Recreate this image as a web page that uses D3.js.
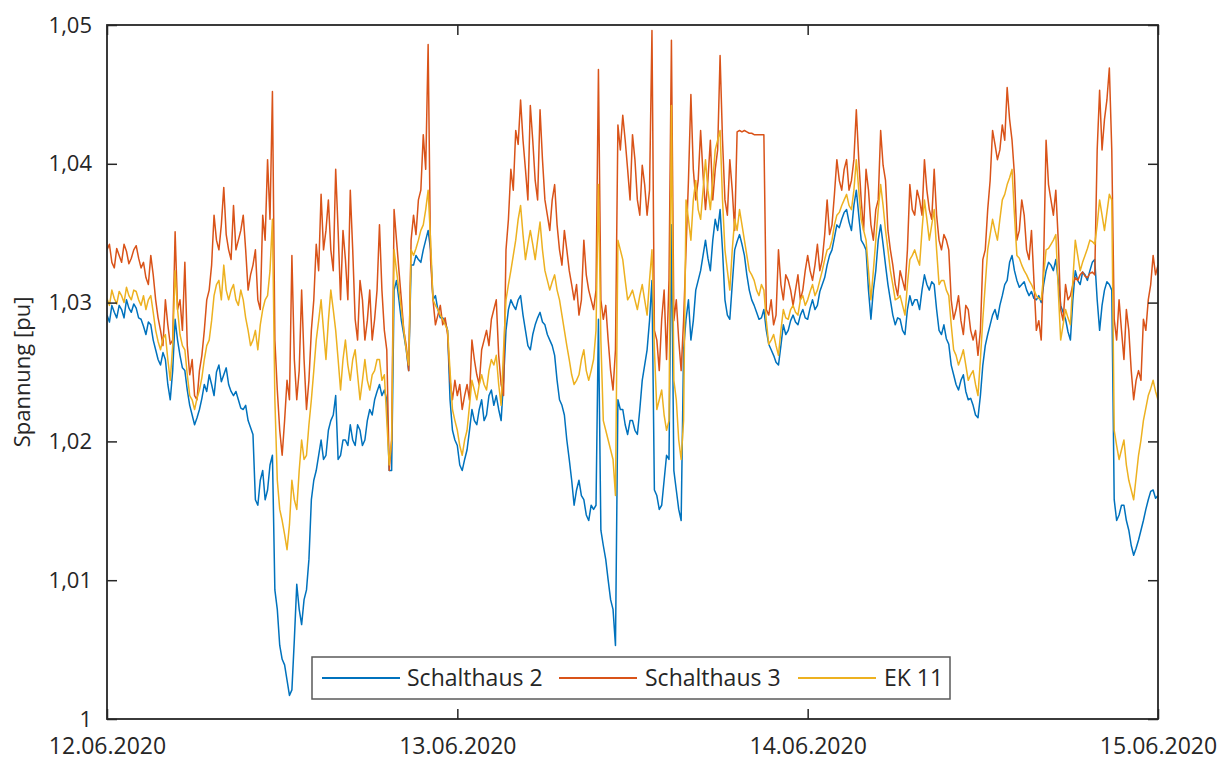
<!DOCTYPE html>
<html>
<head>
<meta charset="utf-8">
<script src="https://cdn.jsdelivr.net/npm/d3@7"></script>
<style>
  body { margin: 0; background: #fff; }
  text { font-family: "Open Sans", "Noto Sans", sans-serif; fill: #262626; }
</style>
</head>
<body>
<svg id="chart" width="1228" height="758"></svg>
<script>
// Voltage measurements, one sample every 10 minutes from 12.06.2020 00:00
const startTime = new Date(2020, 5, 12, 0, 0);
const endTime = new Date(2020, 5, 15, 0, 0);
const stepMinutes = 10;

const seriesNames = ["Schalthaus 2", "Schalthaus 3", "EK 11"];

const schalthaus2 = [
 1.0291,1.0286,1.0298,1.0293,1.0289,1.0298,1.0295,1.0289,1.0302,1.0296,1.0293,1.0299,1.0296,1.0289,1.0288,1.0283,1.0277,1.0286,1.0284,1.0273,
 1.0266,1.0259,1.0255,1.0264,1.0259,1.0241,1.0230,1.0251,1.0288,1.0273,1.0262,1.0253,1.0251,1.0237,1.0226,1.0219,1.0212,1.0217,1.0223,1.0231,
 1.0241,1.0236,1.0248,1.0241,1.0233,1.0250,1.0255,1.0243,1.0248,1.0253,1.0241,1.0236,1.0233,1.0236,1.0230,1.0224,1.0223,1.0226,1.0215,1.0210,
 1.0205,1.0158,1.0154,1.0172,1.0179,1.0158,1.0165,1.0183,1.0190,1.0093,1.0079,1.0053,1.0043,1.0039,1.0028,1.0017,1.0021,1.0057,1.0097,1.0079,
 1.0068,1.0086,1.0093,1.0115,1.0158,1.0172,1.0179,1.0190,1.0201,1.0187,1.0190,1.0208,1.0215,1.0219,1.0233,1.0187,1.0190,1.0201,1.0201,1.0197,
 1.0212,1.0201,1.0197,1.0212,1.0208,1.0197,1.0201,1.0215,1.0223,1.0219,1.0230,1.0236,1.0241,1.0233,1.0237,1.0230,1.0179,1.0179,1.0309,1.0316,
 1.0302,1.0287,1.0277,1.0266,1.0251,1.0327,1.0327,1.0334,1.0331,1.0329,1.0338,1.0345,1.0352,1.0338,1.0302,1.0305,1.0295,1.0289,1.0289,1.0286,
 1.0280,1.0230,1.0208,1.0201,1.0197,1.0183,1.0179,1.0187,1.0194,1.0208,1.0223,1.0215,1.0212,1.0223,1.0230,1.0215,1.0219,1.0233,1.0237,1.0226,
 1.0233,1.0223,1.0215,1.0244,1.0280,1.0295,1.0302,1.0298,1.0295,1.0302,1.0305,1.0291,1.0280,1.0269,1.0266,1.0277,1.0284,1.0289,1.0293,1.0286,
 1.0284,1.0277,1.0273,1.0269,1.0262,1.0244,1.0230,1.0226,1.0219,1.0201,1.0187,1.0172,1.0154,1.0165,1.0172,1.0161,1.0158,1.0147,1.0143,1.0154,
 1.0151,1.0154,1.0288,1.0136,1.0125,1.0115,1.0100,1.0086,1.0079,1.0053,1.0230,1.0223,1.0223,1.0212,1.0205,1.0215,1.0215,1.0208,1.0205,1.0223,
 1.0244,1.0255,1.0266,1.0287,1.0316,1.0165,1.0161,1.0151,1.0154,1.0172,1.0190,1.0187,1.0356,1.0179,1.0165,1.0151,1.0143,1.0266,1.0288,1.0302,
 1.0273,1.0287,1.0309,1.0316,1.0323,1.0334,1.0345,1.0332,1.0323,1.0345,1.0360,1.0352,1.0367,1.0338,1.0302,1.0291,1.0288,1.0313,1.0338,1.0344,
 1.0349,1.0342,1.0334,1.0320,1.0309,1.0302,1.0298,1.0293,1.0288,1.0289,1.0295,1.0280,1.0270,1.0266,1.0262,1.0257,1.0255,1.0269,1.0284,1.0277,
 1.0280,1.0287,1.0291,1.0286,1.0284,1.0291,1.0295,1.0289,1.0288,1.0296,1.0302,1.0295,1.0298,1.0308,1.0313,1.0318,1.0327,1.0334,1.0338,1.0347,
 1.0356,1.0354,1.0360,1.0365,1.0367,1.0358,1.0352,1.0370,1.0381,1.0363,1.0345,1.0342,1.0338,1.0309,1.0288,1.0309,1.0323,1.0345,1.0356,1.0342,
 1.0327,1.0313,1.0302,1.0291,1.0284,1.0289,1.0288,1.0280,1.0277,1.0295,1.0305,1.0298,1.0302,1.0302,1.0295,1.0309,1.0320,1.0313,1.0309,1.0315,
 1.0313,1.0295,1.0280,1.0277,1.0284,1.0274,1.0270,1.0255,1.0248,1.0241,1.0237,1.0244,1.0248,1.0236,1.0230,1.0231,1.0226,1.0219,1.0217,1.0233,
 1.0255,1.0269,1.0277,1.0284,1.0291,1.0295,1.0288,1.0298,1.0305,1.0313,1.0316,1.0329,1.0334,1.0323,1.0316,1.0311,1.0313,1.0315,1.0309,1.0305,
 1.0308,1.0303,1.0302,1.0305,1.0300,1.0313,1.0323,1.0329,1.0327,1.0323,1.0331,1.0316,1.0298,1.0293,1.0288,1.0279,1.0273,1.0302,1.0323,1.0316,
 1.0313,1.0322,1.0320,1.0316,1.0323,1.0329,1.0331,1.0302,1.0280,1.0298,1.0309,1.0315,1.0313,1.0309,1.0158,1.0143,1.0147,1.0154,1.0154,1.0143,
 1.0136,1.0125,1.0118,1.0123,1.0129,1.0136,1.0143,1.0151,1.0158,1.0164,1.0165,1.0159,1.0161];

const schalthaus3 = [
 1.0338,1.0342,1.0329,1.0325,1.0339,1.0334,1.0329,1.0342,1.0337,1.0328,1.0332,1.0338,1.0341,1.0332,1.0325,1.0329,1.0318,1.0313,1.0334,1.0320,
 1.0302,1.0289,1.0280,1.0269,1.0302,1.0284,1.0270,1.0273,1.0351,1.0295,1.0302,1.0280,1.0329,1.0269,1.0248,1.0259,1.0233,1.0230,1.0251,1.0262,
 1.0280,1.0302,1.0309,1.0327,1.0363,1.0345,1.0338,1.0356,1.0383,1.0349,1.0338,1.0331,1.0370,1.0338,1.0345,1.0352,1.0363,1.0338,1.0309,1.0320,
 1.0327,1.0338,1.0302,1.0295,1.0363,1.0345,1.0403,1.0360,1.0452,1.0273,1.0237,1.0208,1.0190,1.0215,1.0244,1.0230,1.0334,1.0259,1.0230,1.0251,
 1.0309,1.0259,1.0223,1.0244,1.0280,1.0302,1.0342,1.0323,1.0378,1.0338,1.0352,1.0374,1.0338,1.0323,1.0396,1.0352,1.0302,1.0352,1.0331,1.0302,
 1.0381,1.0338,1.0288,1.0273,1.0316,1.0302,1.0273,1.0287,1.0309,1.0273,1.0288,1.0309,1.0356,1.0309,1.0280,1.0266,1.0179,1.0201,1.0367,1.0345,
 1.0323,1.0302,1.0280,1.0269,1.0251,1.0345,1.0363,1.0349,1.0374,1.0381,1.0421,1.0396,1.0486,1.0331,1.0302,1.0284,1.0291,1.0298,1.0284,1.0289,
 1.0277,1.0244,1.0230,1.0244,1.0233,1.0241,1.0223,1.0233,1.0241,1.0230,1.0273,1.0259,1.0248,1.0241,1.0266,1.0273,1.0280,1.0269,1.0288,1.0295,
 1.0302,1.0262,1.0241,1.0233,1.0338,1.0360,1.0396,1.0381,1.0424,1.0414,1.0446,1.0417,1.0396,1.0374,1.0442,1.0417,1.0388,1.0374,1.0439,1.0403,
 1.0374,1.0363,1.0352,1.0374,1.0385,1.0356,1.0338,1.0327,1.0352,1.0338,1.0323,1.0313,1.0302,1.0313,1.0291,1.0302,1.0345,1.0320,1.0309,1.0302,
 1.0295,1.0309,1.0468,1.0302,1.0288,1.0298,1.0273,1.0251,1.0237,1.0266,1.0428,1.0410,1.0435,1.0417,1.0396,1.0374,1.0421,1.0403,1.0374,1.0363,
 1.0399,1.0385,1.0363,1.0381,1.0496,1.0280,1.0273,1.0251,1.0288,1.0309,1.0259,1.0316,1.0489,1.0287,1.0302,1.0273,1.0251,1.0287,1.0338,1.0388,
 1.0450,1.0396,1.0374,1.0388,1.0424,1.0392,1.0367,1.0388,1.0417,1.0374,1.0396,1.0410,1.0478,1.0417,1.0374,1.0363,1.0403,1.0381,1.0352,1.0423,
 1.0424,1.0423,1.0424,1.0423,1.0422,1.0422,1.0421,1.0421,1.0421,1.0421,1.0421,1.0295,1.0291,1.0302,1.0284,1.0291,1.0338,1.0313,1.0302,1.0320,
 1.0316,1.0309,1.0298,1.0309,1.0320,1.0302,1.0309,1.0323,1.0334,1.0323,1.0316,1.0327,1.0342,1.0323,1.0331,1.0349,1.0374,1.0349,1.0356,1.0378,
 1.0403,1.0388,1.0381,1.0396,1.0403,1.0381,1.0388,1.0403,1.0439,1.0403,1.0374,1.0352,1.0396,1.0381,1.0356,1.0345,1.0367,1.0374,1.0424,1.0399,
 1.0388,1.0352,1.0338,1.0327,1.0313,1.0305,1.0323,1.0316,1.0309,1.0338,1.0385,1.0367,1.0363,1.0381,1.0374,1.0363,1.0403,1.0381,1.0367,1.0360,
 1.0396,1.0363,1.0345,1.0338,1.0349,1.0345,1.0338,1.0302,1.0288,1.0295,1.0305,1.0287,1.0277,1.0298,1.0295,1.0280,1.0273,1.0280,1.0262,1.0280,
 1.0331,1.0338,1.0367,1.0388,1.0424,1.0414,1.0403,1.0410,1.0428,1.0417,1.0455,1.0432,1.0417,1.0392,1.0345,1.0352,1.0374,1.0363,1.0338,1.0331,
 1.0352,1.0316,1.0280,1.0287,1.0273,1.0331,1.0417,1.0385,1.0374,1.0363,1.0381,1.0345,1.0295,1.0287,1.0313,1.0302,1.0305,1.0313,1.0318,1.0316,
 1.0320,1.0322,1.0319,1.0318,1.0321,1.0322,1.0320,1.0410,1.0453,1.0410,1.0432,1.0446,1.0469,1.0410,1.0288,1.0273,1.0302,1.0280,1.0259,1.0295,
 1.0280,1.0251,1.0230,1.0244,1.0251,1.0244,1.0288,1.0280,1.0302,1.0313,1.0334,1.0320,1.0327];

const ek11 = [
 1.0303,1.0298,1.0309,1.0303,1.0299,1.0308,1.0305,1.0300,1.0311,1.0305,1.0302,1.0309,1.0308,1.0302,1.0298,1.0305,1.0295,1.0302,1.0305,1.0293,
 1.0280,1.0272,1.0266,1.0274,1.0277,1.0259,1.0244,1.0269,1.0323,1.0295,1.0277,1.0269,1.0266,1.0248,1.0233,1.0230,1.0223,1.0231,1.0237,1.0246,
 1.0259,1.0269,1.0273,1.0287,1.0305,1.0313,1.0316,1.0302,1.0327,1.0309,1.0302,1.0309,1.0313,1.0302,1.0298,1.0309,1.0302,1.0289,1.0280,1.0269,
 1.0273,1.0280,1.0266,1.0284,1.0295,1.0302,1.0305,1.0323,1.0360,1.0230,1.0172,1.0151,1.0143,1.0133,1.0122,1.0140,1.0172,1.0158,1.0151,1.0179,
 1.0201,1.0187,1.0190,1.0212,1.0230,1.0251,1.0273,1.0287,1.0302,1.0280,1.0259,1.0287,1.0309,1.0295,1.0280,1.0259,1.0237,1.0259,1.0273,1.0255,
 1.0244,1.0259,1.0266,1.0248,1.0230,1.0244,1.0259,1.0244,1.0237,1.0248,1.0251,1.0259,1.0259,1.0244,1.0248,1.0215,1.0183,1.0201,1.0338,1.0323,
 1.0309,1.0295,1.0280,1.0266,1.0255,1.0338,1.0334,1.0339,1.0345,1.0352,1.0356,1.0367,1.0381,1.0345,1.0302,1.0298,1.0295,1.0291,1.0288,1.0284,
 1.0280,1.0251,1.0223,1.0215,1.0208,1.0197,1.0190,1.0201,1.0208,1.0226,1.0244,1.0237,1.0230,1.0241,1.0248,1.0241,1.0237,1.0251,1.0259,1.0255,
 1.0262,1.0241,1.0226,1.0266,1.0302,1.0313,1.0323,1.0334,1.0345,1.0360,1.0370,1.0349,1.0331,1.0342,1.0352,1.0342,1.0331,1.0345,1.0358,1.0338,
 1.0323,1.0316,1.0309,1.0315,1.0320,1.0309,1.0302,1.0291,1.0280,1.0269,1.0259,1.0248,1.0241,1.0244,1.0248,1.0259,1.0266,1.0251,1.0244,1.0251,
 1.0259,1.0280,1.0385,1.0273,1.0215,1.0208,1.0201,1.0194,1.0187,1.0161,1.0345,1.0338,1.0331,1.0316,1.0302,1.0305,1.0309,1.0302,1.0295,1.0305,
 1.0313,1.0302,1.0291,1.0316,1.0338,1.0266,1.0223,1.0230,1.0237,1.0219,1.0208,1.0215,1.0442,1.0244,1.0230,1.0201,1.0187,1.0215,1.0374,1.0360,
 1.0345,1.0374,1.0388,1.0367,1.0360,1.0381,1.0403,1.0381,1.0367,1.0388,1.0410,1.0417,1.0424,1.0374,1.0338,1.0323,1.0309,1.0338,1.0360,1.0352,
 1.0367,1.0356,1.0345,1.0334,1.0323,1.0320,1.0316,1.0309,1.0305,1.0313,1.0309,1.0287,1.0270,1.0273,1.0277,1.0269,1.0262,1.0280,1.0295,1.0289,
 1.0288,1.0295,1.0298,1.0293,1.0291,1.0302,1.0305,1.0298,1.0302,1.0308,1.0313,1.0305,1.0309,1.0316,1.0323,1.0331,1.0338,1.0339,1.0345,1.0356,
 1.0363,1.0365,1.0370,1.0374,1.0378,1.0370,1.0367,1.0381,1.0403,1.0381,1.0360,1.0352,1.0345,1.0323,1.0302,1.0323,1.0345,1.0367,1.0385,1.0370,
 1.0352,1.0338,1.0323,1.0313,1.0302,1.0303,1.0305,1.0298,1.0291,1.0313,1.0331,1.0334,1.0338,1.0332,1.0327,1.0352,1.0374,1.0360,1.0345,1.0356,
 1.0367,1.0338,1.0313,1.0316,1.0316,1.0309,1.0305,1.0284,1.0266,1.0262,1.0255,1.0260,1.0266,1.0255,1.0244,1.0248,1.0251,1.0241,1.0233,1.0259,
 1.0288,1.0313,1.0338,1.0349,1.0360,1.0352,1.0345,1.0360,1.0374,1.0378,1.0385,1.0390,1.0396,1.0363,1.0334,1.0332,1.0327,1.0323,1.0320,1.0316,
 1.0313,1.0309,1.0305,1.0303,1.0302,1.0320,1.0338,1.0339,1.0342,1.0345,1.0349,1.0309,1.0273,1.0284,1.0295,1.0289,1.0284,1.0316,1.0345,1.0334,
 1.0323,1.0329,1.0334,1.0339,1.0345,1.0344,1.0342,1.0356,1.0374,1.0363,1.0352,1.0365,1.0378,1.0374,1.0208,1.0197,1.0187,1.0194,1.0201,1.0183,
 1.0172,1.0165,1.0158,1.0174,1.0190,1.0201,1.0215,1.0224,1.0233,1.0238,1.0244,1.0236,1.0230];

const yTickValues = [1.00, 1.01, 1.02, 1.03, 1.04, 1.05];
const xTickDates = [new Date(2020, 5, 12), new Date(2020, 5, 13), new Date(2020, 5, 14), new Date(2020, 5, 15)];
const yLabel = "Spannung [pu]";
const colors = ["#0072BD", "#D95319", "#EDB120"];

// ---- layout ----
const margin = { left: 107, right: 70, top: 25, bottom: 39 };
const W = 1228, H = 758;
const plotW = W - margin.left - margin.right;
const plotH = H - margin.top - margin.bottom;

const svg = d3.select("#chart");

const x = d3.scaleTime().domain([startTime, endTime]).range([0, plotW]);
const y = d3.scaleLinear().domain([1.0, 1.05]).range([plotH, 0]);

const timeAt = i => d3.timeMinute.offset(startTime, i * stepMinutes);

const g = svg.append("g").attr("transform", `translate(${margin.left},${margin.top})`);

g.append("defs").append("clipPath").attr("id", "plot-clip")
  .append("rect").attr("x", 0).attr("y", 0).attr("width", plotW).attr("height", plotH);

// ---- series ----
const line = d3.line()
  .x((d, i) => x(timeAt(i)))
  .y(d => y(d));

const allSeries = [schalthaus2, schalthaus3, ek11];
const lines = g.append("g").attr("clip-path", "url(#plot-clip)");
allSeries.forEach((s, k) => {
  lines.append("path")
    .datum(s)
    .attr("fill", "none")
    .attr("stroke", colors[k])
    .attr("stroke-width", 1.5)
    .attr("stroke-linejoin", "round")
    .attr("d", line);
});

// ---- axes ----
const commaFmt = d => d3.format(".3~g")(d).replace(".", ",");
const dateFmt = d3.timeFormat("%d.%m.%Y");

const yAxis = g.append("g")
  .call(d3.axisLeft(y).tickValues(yTickValues).tickFormat(commaFmt).tickSize(-10).tickPadding(15));
yAxis.selectAll("text").style("font-size", "22px");

const yAxisRight = g.append("g").attr("transform", `translate(${plotW},0)`)
  .call(d3.axisRight(y).tickValues(yTickValues).tickFormat("").tickSize(-10));

const xAxis = g.append("g").attr("transform", `translate(0,${plotH})`)
  .call(d3.axisBottom(x).tickValues(xTickDates).tickFormat(dateFmt).tickSize(-10).tickPadding(19));
xAxis.selectAll("text").style("font-size", "23px");

const xAxisTop = g.append("g")
  .call(d3.axisTop(x).tickValues(xTickDates).tickFormat("").tickSize(-10));

[yAxis, yAxisRight, xAxis, xAxisTop].forEach(a => {
  a.select(".domain").remove();
  a.selectAll(".tick line").attr("stroke", "#262626").attr("stroke-width", 1.5);
});

// box around plot area
g.append("rect")
  .attr("x", 0).attr("y", 0).attr("width", plotW).attr("height", plotH)
  .attr("fill", "none").attr("stroke", "#262626").attr("stroke-width", 1.8);

// y axis title
svg.append("text")
  .attr("transform", `translate(30,${margin.top + plotH / 2}) rotate(-90)`)
  .attr("text-anchor", "middle")
  .style("font-size", "22px")
  .text(yLabel);

// ---- legend ----
const legend = svg.append("g").attr("transform", "translate(312,657)");
legend.append("rect")
  .attr("width", 638).attr("height", 42)
  .attr("fill", "#fff").attr("stroke", "#5a5a5a").attr("stroke-width", 1.5);

const legendItems = [
  { line: 10, text: 95 },
  { line: 247, text: 333 },
  { line: 486, text: 572 }
];
seriesNames.forEach((name, k) => {
  const it = legendItems[k];
  legend.append("line")
    .attr("x1", it.line).attr("x2", it.line + 78)
    .attr("y1", 21).attr("y2", 21)
    .attr("stroke", colors[k]).attr("stroke-width", 1.8);
  legend.append("text")
    .attr("x", it.text).attr("y", 21).attr("dy", "0.35em")
    .style("font-size", "23px")
    .text(name);
});
</script>
</body>
</html>
